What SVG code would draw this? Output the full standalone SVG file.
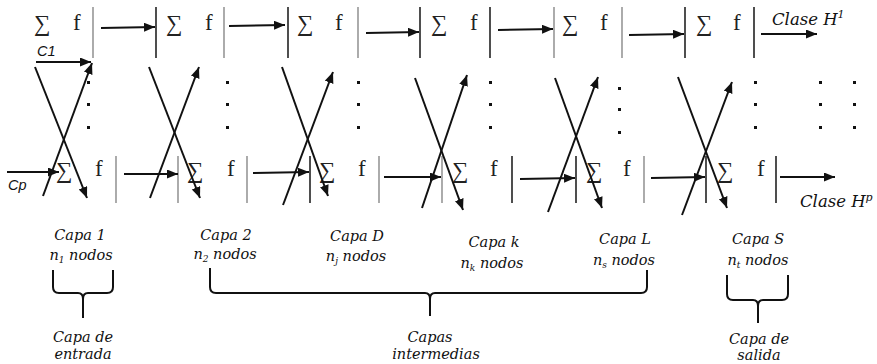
<svg xmlns="http://www.w3.org/2000/svg" width="877" height="364" viewBox="0 0 877 364">
<style>
.sym{font-family:"Liberation Serif","Times New Roman",serif;font-size:23px;fill:#222}
.lab{font-family:"DejaVu Serif","Liberation Serif",serif;font-style:italic;font-size:14.5px;fill:#111;text-anchor:middle}
.cls{font-family:"DejaVu Serif","Liberation Serif",serif;font-style:italic;font-size:16.5px;fill:#111}
.inp{font-family:"Liberation Sans",Arial,sans-serif;font-style:italic;font-size:14.5px;fill:#111}
.vd{stroke:#222;stroke-width:1.6}
.vg{stroke:#888;stroke-width:1.4}
.ar{stroke:#111;stroke-width:2;fill:none;marker-end:url(#ah)}
.br{stroke:#111;stroke-width:2;fill:none}
.dot{fill:#111}
</style>
<defs>
<marker id="ah" markerUnits="userSpaceOnUse" markerWidth="12" markerHeight="10" refX="11" refY="4.5" orient="auto">
<path d="M0,0 L11,4.5 L0,9 Z" fill="#111"/>
</marker>
</defs>
<rect width="877" height="364" fill="#fff"/>

<!-- top row nodes -->
<g id="t1"><text class="sym" x="34" y="31">∑</text><text class="sym" x="73" y="30">f</text><line class="vg" x1="93" y1="7" x2="93" y2="58"/></g>
<g id="t2"><line class="vd" x1="156" y1="7" x2="156" y2="58"/><text class="sym" x="166" y="31">∑</text><text class="sym" x="205" y="30">f</text><line class="vg" x1="224" y1="7" x2="224" y2="58"/></g>
<g id="t3"><line class="vd" x1="288" y1="7" x2="288" y2="58"/><text class="sym" x="297" y="31">∑</text><text class="sym" x="335" y="30">f</text><line class="vg" x1="358" y1="7" x2="358" y2="58"/></g>
<g id="t4"><line class="vd" x1="420" y1="7" x2="420" y2="58"/><text class="sym" x="431" y="31">∑</text><text class="sym" x="470" y="30">f</text><line class="vd" x1="490" y1="7" x2="490" y2="58"/></g>
<g id="t5"><line class="vg" x1="554" y1="7" x2="554" y2="58"/><text class="sym" x="562" y="31">∑</text><text class="sym" x="600" y="30">f</text><line class="vg" x1="622" y1="7" x2="622" y2="58"/></g>
<g id="t6"><line class="vd" x1="685" y1="7" x2="685" y2="58"/><text class="sym" x="696" y="31">∑</text><text class="sym" x="733" y="30">f</text><line class="vd" x1="754" y1="7" x2="754" y2="58"/></g>

<!-- bottom row nodes -->
<g id="b1"><text class="sym" x="56" y="178">∑</text><text class="sym" x="95" y="176">f</text><line class="vg" x1="116" y1="156" x2="116" y2="203"/></g>
<g id="b2"><line class="vg" x1="178" y1="156" x2="178" y2="203"/><text class="sym" x="187" y="178">∑</text><text class="sym" x="227" y="176">f</text><line class="vg" x1="247" y1="156" x2="247" y2="203"/></g>
<g id="b3"><line class="vd" x1="310" y1="156" x2="310" y2="203"/><text class="sym" x="319" y="178">∑</text><text class="sym" x="358" y="176">f</text><line class="vg" x1="379" y1="156" x2="379" y2="203"/></g>
<g id="b4"><line class="vg" x1="442" y1="156" x2="442" y2="203"/><text class="sym" x="452" y="178">∑</text><text class="sym" x="490" y="176">f</text><line class="vd" x1="512" y1="156" x2="512" y2="203"/></g>
<g id="b5"><line class="vd" x1="576" y1="156" x2="576" y2="203"/><text class="sym" x="586" y="178">∑</text><text class="sym" x="623" y="176">f</text><line class="vg" x1="644" y1="156" x2="644" y2="203"/></g>
<g id="b6"><line class="vd" x1="706" y1="156" x2="706" y2="203"/><text class="sym" x="717" y="178">∑</text><text class="sym" x="757" y="176">f</text><line class="vd" x1="776" y1="156" x2="776" y2="203"/></g>

<!-- ellipsis dots -->
<g id="dots">
<rect class="dot" x="87" y="81" width="3" height="3"/><rect class="dot" x="87" y="103" width="3" height="3"/><rect class="dot" x="87" y="126" width="3" height="3"/>
<rect class="dot" x="226" y="81" width="3" height="3"/><rect class="dot" x="226" y="103" width="3" height="3"/><rect class="dot" x="226" y="126" width="3" height="3"/>
<rect class="dot" x="357" y="81" width="3" height="3"/><rect class="dot" x="357" y="103" width="3" height="3"/><rect class="dot" x="357" y="126" width="3" height="3"/>
<rect class="dot" x="489" y="81" width="3" height="3"/><rect class="dot" x="489" y="103" width="3" height="3"/><rect class="dot" x="489" y="126" width="3" height="3"/>
<rect class="dot" x="618" y="87" width="3" height="3"/><rect class="dot" x="618" y="108" width="3" height="3"/><rect class="dot" x="618" y="131" width="3" height="3"/>
<rect class="dot" x="754" y="81" width="3" height="3"/><rect class="dot" x="754" y="103" width="3" height="3"/><rect class="dot" x="754" y="126" width="3" height="3"/>
<rect class="dot" x="819" y="81" width="3" height="3"/><rect class="dot" x="819" y="103" width="3" height="3"/><rect class="dot" x="819" y="126" width="3" height="3"/>
<rect class="dot" x="853" y="81" width="3" height="3"/><rect class="dot" x="853" y="103" width="3" height="3"/><rect class="dot" x="853" y="126" width="3" height="3"/>
</g>

<!-- connectors -->
<g id="connectors">
<line class="ar" x1="36" y1="62" x2="91" y2="62"/>
<line class="ar" x1="101" y1="28" x2="155" y2="27"/>
<line class="ar" x1="229" y1="26" x2="285" y2="25"/>
<line class="ar" x1="366" y1="33" x2="419" y2="32"/>
<line class="ar" x1="498" y1="30" x2="553" y2="29"/>
<line class="ar" x1="629" y1="35" x2="684" y2="34"/>
<line class="ar" x1="761" y1="34" x2="817" y2="34"/>

<line class="ar" x1="7" y1="172" x2="59" y2="172"/>
<line class="ar" x1="124" y1="174" x2="178" y2="174"/>
<line class="ar" x1="253" y1="173" x2="309" y2="172"/>
<line class="ar" x1="384" y1="177" x2="441" y2="177"/>
<line class="ar" x1="520" y1="179" x2="575" y2="178"/>
<line class="ar" x1="651" y1="178" x2="705" y2="177"/>
<line class="ar" x1="780" y1="177" x2="835" y2="177"/>

<line class="ar" x1="35" y1="67" x2="87" y2="198"/>
<line class="ar" x1="43" y1="196" x2="92" y2="63"/>
<line class="ar" x1="149" y1="67" x2="200" y2="198"/>
<line class="ar" x1="150" y1="198" x2="199" y2="67"/>
<line class="ar" x1="282" y1="67" x2="328" y2="196"/>
<line class="ar" x1="283" y1="205" x2="333" y2="72"/>
<line class="ar" x1="415" y1="78" x2="463" y2="210"/>
<line class="ar" x1="422" y1="208" x2="467" y2="75"/>
<line class="ar" x1="555" y1="78" x2="602" y2="208"/>
<line class="ar" x1="548" y1="212" x2="598" y2="77"/>
<line class="ar" x1="678" y1="77" x2="727" y2="208"/>
<line class="ar" x1="682" y1="215" x2="732" y2="82"/>
</g>

<!-- input/output labels -->
<g id="io">
<text class="inp" x="37" y="56">C1</text>
<text class="inp" x="8" y="190">Cp</text>
<text class="cls" x="772" y="25">Clase H<tspan font-size="11" dy="-7">1</tspan></text>
<text class="cls" x="800" y="207">Clase H<tspan font-size="11" dy="-6">p</tspan></text>
</g>

<!-- layer labels -->
<g id="layers">
<text class="lab" x="80" y="240">Capa 1</text>
<text class="lab" x="81" y="260">n<tspan font-size="9" dy="3">1</tspan><tspan dy="-3"> nodos</tspan></text>
<text class="lab" x="226" y="240">Capa 2</text>
<text class="lab" x="225" y="259">n<tspan font-size="9" dy="3">2</tspan><tspan dy="-3"> nodos</tspan></text>
<text class="lab" x="357" y="241">Capa D</text>
<text class="lab" x="356" y="261">n<tspan font-size="9" dy="3">j</tspan><tspan dy="-3"> nodos</tspan></text>
<text class="lab" x="494" y="247">Capa k</text>
<text class="lab" x="492" y="268">n<tspan font-size="9" dy="3">k</tspan><tspan dy="-3"> nodos</tspan></text>
<text class="lab" x="625" y="244">Capa L</text>
<text class="lab" x="624" y="265">n<tspan font-size="9" dy="3">s</tspan><tspan dy="-3"> nodos</tspan></text>
<text class="lab" x="758" y="244">Capa S</text>
<text class="lab" x="758" y="265">n<tspan font-size="9" dy="3">t</tspan><tspan dy="-3"> nodos</tspan></text>
</g>

<!-- braces -->
<g id="brace-entrada">
<path class="br" d="M53,270 V287 Q53,293 59,293 H78 Q83,293 83,299 V318 M113,270 V287 Q113,293 107,293 H88 Q83,293 83,299"/>
<text class="lab" x="83" y="342">Capa de</text>
<text class="lab" x="83" y="359">entrada</text>
</g>
<g id="brace-intermedias">
<path class="br" d="M210,268 V287 Q210,293 216,293 H425 Q430,293 430,299 V316 M647,270 V287 Q647,293 641,293 H435 Q430,293 430,299"/>
<text class="lab" x="430" y="342">Capas</text>
<text class="lab" x="436" y="359">intermedias</text>
</g>
<g id="brace-salida">
<path class="br" d="M727,275 V294 Q727,300 733,300 H753 Q758,300 758,306 V323 M788,275 V294 Q788,300 782,300 H763 Q758,300 758,306"/>
<text class="lab" x="759" y="344">Capa de</text>
<text class="lab" x="759" y="360">salida</text>
</g>
</svg>
